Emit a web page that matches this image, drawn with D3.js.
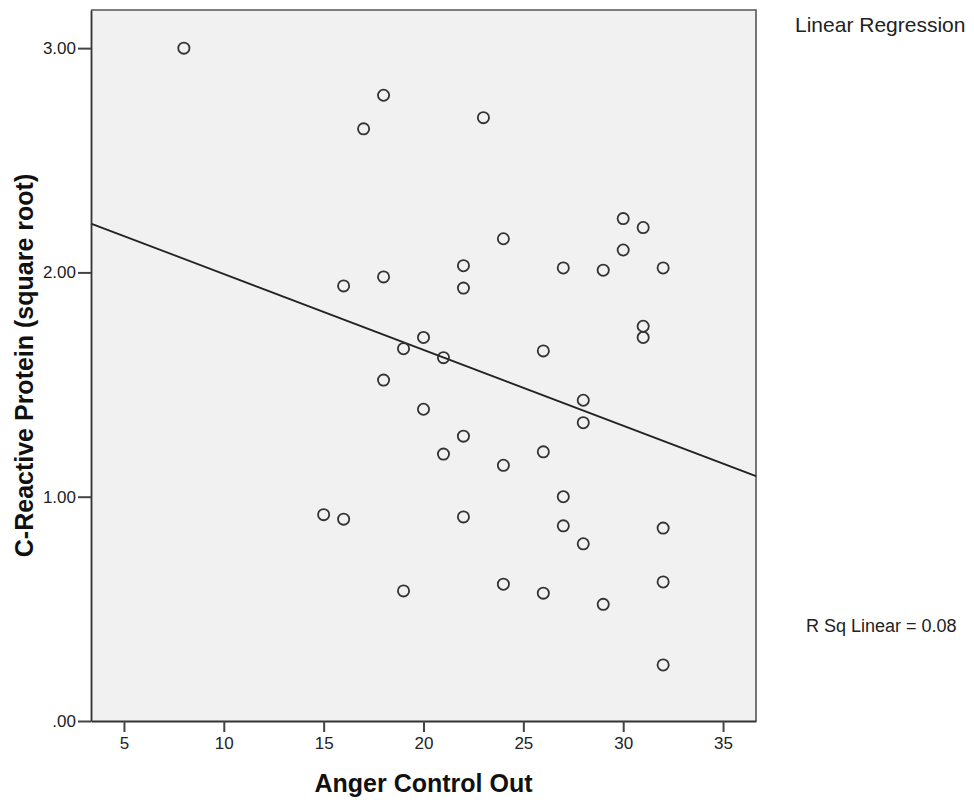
<!DOCTYPE html>
<html>
<head>
<meta charset="utf-8">
<script src="https://cdn.jsdelivr.net/npm/d3@7"></script>
<style>
  body { margin: 0; background: #fff; }
  svg { display: block; font-family: "Liberation Sans", Arial, sans-serif; }
</style>
</head>
<body>
<svg width="974" height="803"></svg>
<script>
// Anger Control Out (x) vs C-Reactive Protein sqrt (y)
const angerOut = [8, 18, 17, 23, 30, 31, 24, 30, 22, 27, 29, 32, 18, 16, 22, 31, 31, 20, 19, 21, 26,
  18, 28, 20, 28, 22, 21, 26, 24, 27, 15, 16, 22, 27, 32, 28, 24, 32, 19, 26, 29, 32];
const crpSqrt = [3.00, 2.79, 2.64, 2.69, 2.24, 2.20, 2.15, 2.10, 2.03, 2.02, 2.01, 2.02, 1.98, 1.94, 1.93, 1.76, 1.71, 1.71, 1.66, 1.62, 1.65,
  1.52, 1.43, 1.39, 1.33, 1.27, 1.19, 1.20, 1.14, 1.00, 0.92, 0.90, 0.91, 0.87, 0.86, 0.79, 0.61, 0.62, 0.58, 0.57, 0.52, 0.25];

const xTickValues = [5, 10, 15, 20, 25, 30, 35];
const yTickValues = [0, 1, 2, 3];
const yTickLabels = [".00", "1.00", "2.00", "3.00"];
const xDomain = [3.35, 36.65];
const yDomain = [0, 3.17];
const rSqLabel = "R Sq Linear = 0.08";

const points = angerOut.map((x, i) => ({ x: x, y: crpSqrt[i] }));

// least squares fit
const mx = d3.mean(angerOut), my = d3.mean(crpSqrt);
const slope = d3.sum(points, d => (d.x - mx) * (d.y - my)) / d3.sum(points, d => (d.x - mx) ** 2);
const intercept = my - slope * mx;

const margin = { top: 10, right: 218, bottom: 82, left: 91 },
    width = 974 - margin.left - margin.right,
    height = 803 - margin.top - margin.bottom;

const svg = d3.select("svg");
const g = svg.append("g")
    .attr("transform", `translate(${margin.left},${margin.top})`);

const x = d3.scaleLinear().domain(xDomain).range([0, width]);
const y = d3.scaleLinear().domain(yDomain).range([height, 0]);

// plot background
g.append("rect")
    .attr("width", width)
    .attr("height", height)
    .attr("fill", "#f1f1f1");

// frame top/right
g.append("path")
    .attr("d", `M0,0H${width}V${height}`)
    .attr("fill", "none")
    .attr("stroke", "#555")
    .attr("stroke-width", 1.6);

// regression line
g.append("line")
    .attr("x1", x(xDomain[0]))
    .attr("y1", y(intercept + slope * xDomain[0]))
    .attr("x2", x(xDomain[1]))
    .attr("y2", y(intercept + slope * xDomain[1]))
    .attr("stroke", "#222")
    .attr("stroke-width", 1.8);

// points
g.selectAll(".pt")
    .data(points)
    .enter().append("circle")
    .attr("class", "pt")
    .attr("cx", d => x(d.x))
    .attr("cy", d => y(d.y))
    .attr("r", 5.6)
    .attr("fill", "none")
    .attr("stroke", "#333")
    .attr("stroke-width", 1.8);

// X-axis
const xAxis = g.append("g")
    .attr("transform", `translate(0,${height})`)
    .call(d3.axisBottom(x).tickValues(xTickValues).tickSize(11).tickPadding(5).tickSizeOuter(0));
xAxis.select(".domain").attr("stroke", "#333").attr("stroke-width", 1.8);
xAxis.selectAll(".tick line").attr("stroke", "#444").attr("stroke-width", 2);
xAxis.selectAll("text").attr("font-size", 17).attr("fill", "#222").attr("font-family", "Liberation Sans, Arial, sans-serif");

// Y-axis
const yAxis = g.append("g")
    .call(d3.axisLeft(y).tickValues(yTickValues).tickFormat((d, i) => yTickLabels[i]).tickSize(13).tickPadding(2).tickSizeOuter(0));
yAxis.select(".domain").attr("stroke", "#333").attr("stroke-width", 1.8);
yAxis.selectAll(".tick line").attr("stroke", "#444").attr("stroke-width", 2);
yAxis.selectAll("text").attr("font-size", 17).attr("fill", "#222").attr("font-family", "Liberation Sans, Arial, sans-serif");

// axis titles
svg.append("text")
    .attr("x", margin.left + width / 2)
    .attr("y", 792)
    .attr("text-anchor", "middle")
    .attr("font-size", 25)
    .attr("font-weight", "bold")
    .attr("fill", "#111")
    .text("Anger Control Out");

svg.append("text")
    .attr("transform", `translate(33,${margin.top + height / 2}) rotate(-90)`)
    .attr("text-anchor", "middle")
    .attr("font-size", 25)
    .attr("font-weight", "bold")
    .attr("fill", "#111")
    .text("C-Reactive Protein (square root)");

// annotations on the right
svg.append("text")
    .attr("x", 795)
    .attr("y", 32)
    .attr("font-size", 21)
    .attr("fill", "#222")
    .text("Linear Regression");

svg.append("text")
    .attr("x", 806)
    .attr("y", 632)
    .attr("font-size", 18)
    .attr("fill", "#222")
    .text(rSqLabel);
</script>
</body>
</html>
